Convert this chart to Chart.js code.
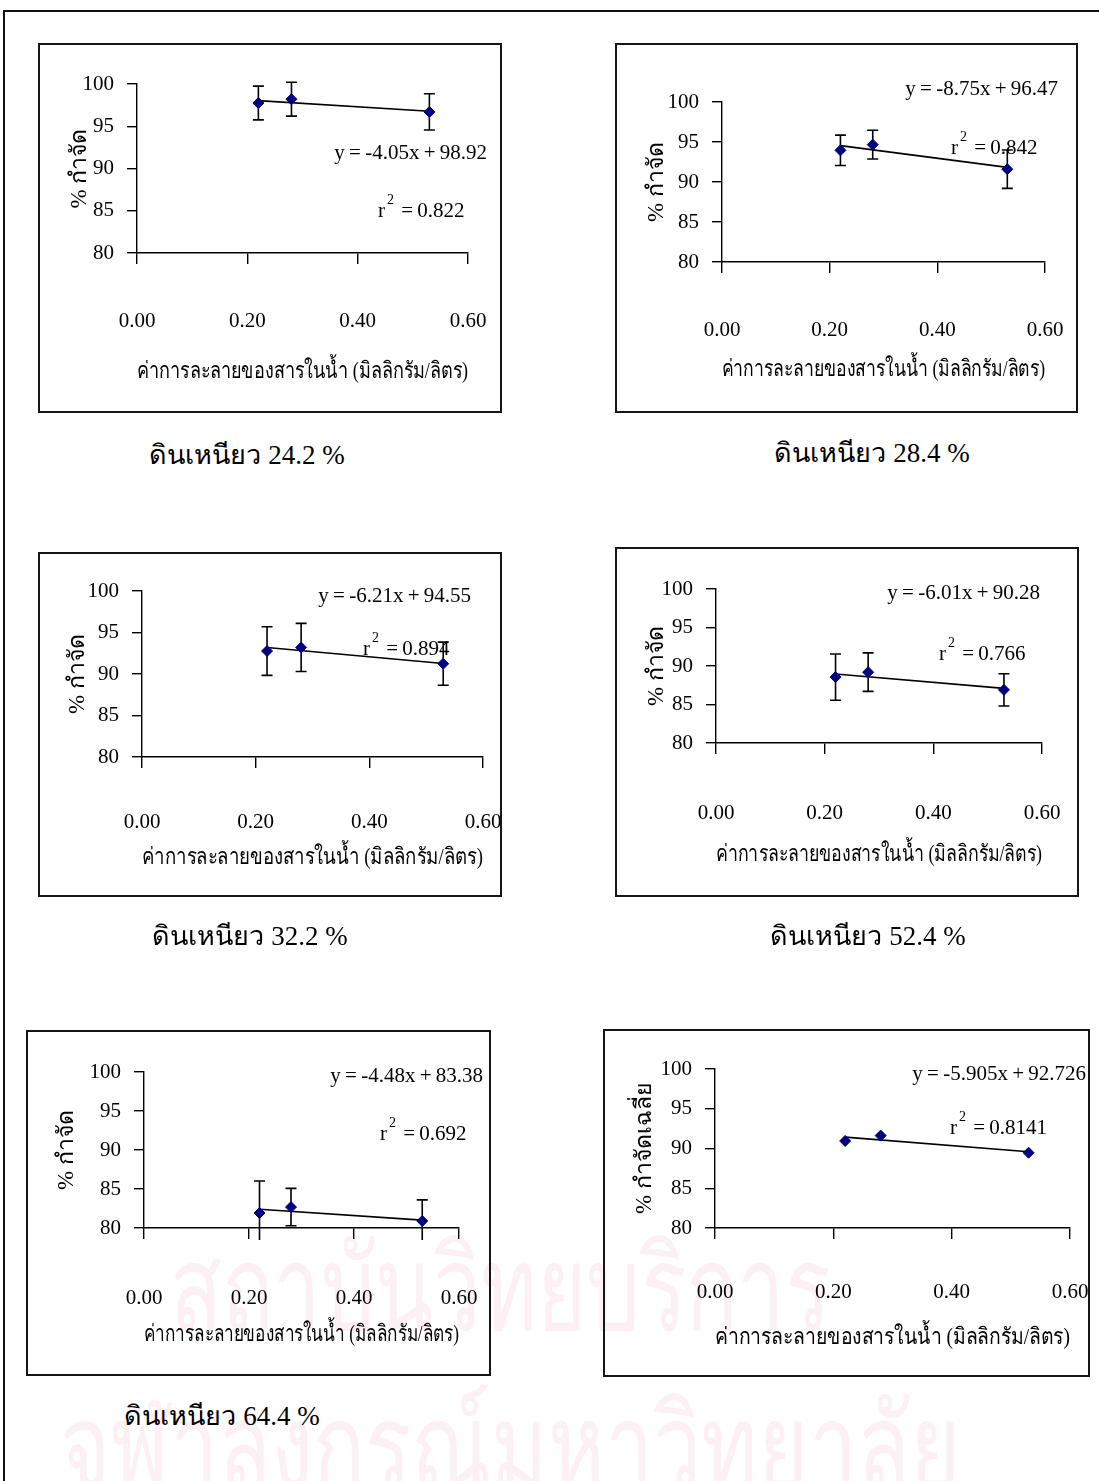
<!DOCTYPE html>
<html>
<head>
<meta charset="utf-8">
<script src="https://cdn.jsdelivr.net/npm/chart.js@4.4.0/dist/chart.umd.min.js"></script>
<style>
  html, body { margin: 0; padding: 0; background: #fff; overflow: hidden; }
  body { width: 1099px; height: 1481px; position: relative; font-family: "Liberation Serif", "Times New Roman", serif; color: #000; }
  .frame-top { position: absolute; left: 3px; top: 10px; width: 1096px; height: 2px; background: #111; }
  .frame-left { position: absolute; left: 3px; top: 10px; width: 2px; height: 1471px; background: #111; }
  .box { position: absolute; box-sizing: border-box; border: 2px solid #161616; pointer-events: none; }
  .plot { position: absolute; }
  .eq, .r2 { position: absolute; font-size: 21px; line-height: 24px; white-space: nowrap; word-spacing: -1px; }
  .r2 sup { font-size: 14px; vertical-align: 13px; line-height: 0; margin-left: 2px; margin-right: 3px; }
  .cap { position: absolute; font-size: 27px; line-height: 32px; white-space: nowrap; transform: translateX(-50%); }
  .wm { position: absolute; color: #fcf0f4; white-space: nowrap; font-family: "Noto Sans", sans-serif; transform-origin: 0 0; }
</style>
</head>
<body>
<div class="wm" data-width="660" style="left:170px; top:1210px; font-size:118px; line-height:150px;">สถาบันวิทยบริการ</div>
<div class="wm" data-width="900" style="left:60px; top:1368px; font-size:118px; line-height:150px;">จุฬาลงกรณ์มหาวิทยาลัย</div>
<div class="frame-top"></div>
<div class="frame-left"></div>
<div id="page"></div>
<script>
// Solubility of the compound in water (mg/L) at which removal was measured
const xValues = [0.22, 0.28, 0.53];
const xTicks = [0, 0.2, 0.4, 0.6];
const xTickLabels = ['0.00', '0.20', '0.40', '0.60'];
const yTicks = [80, 85, 90, 95, 100];
const yTickLabels = ['80', '85', '90', '95', '100'];

// Removal (%) and error bar half-widths for each clay content
const removal242 = [97.75, 98.2, 96.7];
const err242 = [2.0, 2.0, 2.15];
const removal284 = [93.96, 94.67, 91.6];
const err284 = [1.9, 1.8, 2.4];
const removal322 = [92.77, 93.2, 91.24];
const err322 = [2.93, 2.9, 2.6];
const removal524 = [88.56, 89.2, 86.9];
const err524 = [3.0, 2.5, 2.1];
const removal644 = [81.92, 82.68, 80.9];
const err644 = [4.1, 2.4, 2.7];
const removalMean = [90.95, 91.62, 89.47];

// Linear trendlines
const slopes = [-4.05, -8.75, -6.21, -6.01, -4.48, -5.905];
const intercepts = [98.92, 96.47, 94.55, 90.28, 83.38, 92.726];
const slopeText = ['-4.05', '-8.75', '-6.21', '-6.01', '-4.48', '-5.905'];
const interceptText = ['98.92', '96.47', '94.55', '90.28', '83.38', '92.726'];
const rSquaredText = ['0.822', '0.842', '0.894', '0.766', '0.692', '0.8141'];

const captions = ['ดินเหนียว 24.2 %', 'ดินเหนียว 28.4 %', 'ดินเหนียว 32.2 %', 'ดินเหนียว 52.4 %', 'ดินเหนียว 64.4 %', ''];
const xTitle = 'ค่าการละลายของสารในน้ำ (มิลลิกรัม/ลิตร)';
const yTitles = ['% กำจัด', '% กำจัด', '% กำจัด', '% กำจัด', '% กำจัด', '% กำจัดเฉลี่ย'];

const seriesValues = [removal242, removal284, removal322, removal524, removal644, removalMean];
const seriesErrors = [err242, err284, err322, err524, err644, null];

// Panel geometry on the page: frame box [x, y, w, h], plot area [left, top, right, bottom],
// x tick label centre, x title centre, y title centre, equation anchor (right, mid), r2 anchor (left, mid), caption centre
const panels = [
  { box: [38, 43, 464, 370],   area: [137, 84, 468, 253],     xLab: 321,  xTit: 372,  yTit: 80,  eq: [487, 152],  r2: [378, 210],  cap: [247, 455] },
  { box: [615, 43, 463, 370],  area: [722, 102, 1045, 262],   xLab: 330,  xTit: 370,  yTit: 657, eq: [1058, 88],  r2: [951, 147],  cap: [872, 453] },
  { box: [38, 552, 464, 345],  area: [142, 591, 483, 757],    xLab: 822,  xTit: 858,  yTit: 78,  eq: [471, 595],  r2: [363, 648],  cap: [250, 936] },
  { box: [615, 547, 464, 350], area: [716, 589, 1042, 743],   xLab: 813,  xTit: 855,  yTit: 657, eq: [1040, 592], r2: [939, 653],  cap: [868, 936] },
  { box: [26, 1030, 465, 346], area: [144, 1072, 459, 1228],  xLab: 1298, xTit: 1335, yTit: 67,  eq: [483, 1075], r2: [380, 1133], cap: [222, 1416] },
  { box: [603, 1029, 487, 348], area: [715, 1069, 1070, 1228], xLab: 1292, xTit: 1338, yTit: 645, eq: [1086, 1073], r2: [950, 1127], cap: null }
];

const MARGIN = 24;          // canvas extends past the frame so edge labels are never squeezed
const TICK_LEN_X = 11;
const TICK_LEN_Y = 10;
const tickFont = { family: 'Liberation Serif', size: 21 };
const titleFont = { family: 'Liberation Serif', size: 23 };

// Squeeze the background lettering to its intended width
document.querySelectorAll('.wm').forEach(el => {
  const target = +el.dataset.width;
  const w = el.getBoundingClientRect().width;
  if (w > 0) el.style.transform = `scaleX(${target / w})`;
});

const errorBarPlugin = {
  id: 'errorBars',
  beforeDatasetsDraw(chart, args, opts) {
    if (!opts.errors) return;
    const { ctx, scales: { x, y }, chartArea } = chart;
    const limit = chartArea.bottom + 12;
    const data = chart.data.datasets[0].data;
    ctx.save();
    ctx.strokeStyle = '#000';
    ctx.lineWidth = 1.6;
    data.forEach((p, i) => {
      const e = opts.errors[i];
      const px = x.getPixelForValue(p.x);
      const top = y.getPixelForValue(p.y + e);
      const bot = y.getPixelForValue(p.y - e);
      const botDraw = Math.min(bot, limit);
      ctx.beginPath();
      ctx.moveTo(px, top);
      ctx.lineTo(px, botDraw);
      ctx.moveTo(px - 5.5, top);
      ctx.lineTo(px + 5.5, top);
      if (bot <= limit) {
        ctx.moveTo(px - 5.5, bot);
        ctx.lineTo(px + 5.5, bot);
      }
      ctx.stroke();
    });
    ctx.restore();
  }
};

const page = document.getElementById('page');

panels.forEach((pn, k) => {
  const [bx, by, bw, bh] = pn.box;
  const [aL, aT, aR, aB] = pn.area;
  const cx = bx - MARGIN, cy = by - MARGIN, cw = bw + 2 * MARGIN, ch = bh + 2 * MARGIN;

  const wrap = document.createElement('div');
  wrap.className = 'plot';
  wrap.style.cssText = `left:${cx}px;top:${cy}px;width:${cw}px;height:${ch}px;`;
  const canvas = document.createElement('canvas');
  wrap.appendChild(canvas);
  page.appendChild(wrap);

  const frame = document.createElement('div');
  frame.className = 'box';
  frame.style.cssText = `left:${bx}px;top:${by}px;width:${bw}px;height:${bh}px;`;
  page.appendChild(frame);

  const tickLH = tickFont.size * 1.2;
  const titleLH = titleFont.size * 1.2;
  const yScaleWidth = aL - cx;
  const xScaleHeight = (cy + ch) - aB;

  const points = xValues.map((v, i) => ({ x: v, y: seriesValues[k][i] }));
  const x0 = xValues[0], x1 = xValues[xValues.length - 1];
  const trend = [
    { x: x0, y: slopes[k] * x0 + intercepts[k] },
    { x: x1, y: slopes[k] * x1 + intercepts[k] }
  ];

  new Chart(canvas, {
    type: 'scatter',
    data: {
      datasets: [
        {
          data: points,
          pointStyle: 'rectRot',
          pointRadius: 5.5,
          backgroundColor: '#000080',
          borderColor: '#000080',
          borderWidth: 1,
          clip: false
        },
        {
          type: 'line',
          data: trend,
          borderColor: '#000',
          borderWidth: 1.6,
          pointRadius: 0,
          fill: false,
          clip: false
        }
      ]
    },
    options: {
      responsive: true,
      maintainAspectRatio: false,
      animation: false,
      events: [],
      layout: { padding: { left: 0, bottom: 0, top: aT - cy, right: (cx + cw) - aR } },
      plugins: {
        legend: { display: false },
        tooltip: { enabled: false },
        errorBars: { errors: seriesErrors[k] }
      },
      scales: {
        x: {
          type: 'linear',
          min: 0, max: 0.6,
          afterBuildTicks: s => { s.ticks = xTicks.map(v => ({ value: v })); },
          afterFit: s => { s.height = xScaleHeight; s.paddingLeft = 0; s.paddingRight = 0; },
          ticks: {
            font: tickFont, color: '#000', maxRotation: 0, autoSkip: false,
            padding: pn.xLab - aB - TICK_LEN_X - tickLH / 2,
            callback: (v, i) => xTickLabels[i]
          },
          grid: { drawOnChartArea: false, drawTicks: true, tickLength: TICK_LEN_X, color: '#000', lineWidth: 1.4 },
          border: { display: true, color: '#000', width: 1.4 },
          title: {
            display: true, text: xTitle, font: titleFont, color: '#000',
            padding: { top: 0, bottom: (cy + ch) - pn.xTit - titleLH / 2 }
          }
        },
        y: {
          type: 'linear',
          min: 80, max: 100,
          afterBuildTicks: s => { s.ticks = yTicks.map(v => ({ value: v })); },
          afterFit: s => { s.width = yScaleWidth; s.paddingTop = 0; s.paddingBottom = 0; },
          ticks: {
            font: tickFont, color: '#000', padding: 13,
            callback: (v, i) => yTickLabels[i]
          },
          grid: { drawOnChartArea: false, drawTicks: true, tickLength: TICK_LEN_Y, color: '#000', lineWidth: 1.4 },
          border: { display: true, color: '#000', width: 1.4 },
          title: {
            display: true, text: yTitles[k], font: titleFont, color: '#000',
            padding: { top: pn.yTit - cx - titleLH / 2, bottom: 0 }
          }
        }
      }
    },
    plugins: [errorBarPlugin]
  });

  const eq = document.createElement('div');
  eq.className = 'eq';
  eq.style.cssText = `right:${1099 - pn.eq[0]}px;top:${pn.eq[1] - 12}px;`;
  eq.textContent = `y = ${slopeText[k]}x + ${interceptText[k]}`;
  page.appendChild(eq);

  const r2 = document.createElement('div');
  r2.className = 'r2';
  r2.style.cssText = `left:${pn.r2[0]}px;top:${pn.r2[1] - 12}px;`;
  r2.innerHTML = `r<sup>2</sup> = ${rSquaredText[k]}`;
  page.appendChild(r2);

  if (pn.cap && captions[k]) {
    const cap = document.createElement('div');
    cap.className = 'cap';
    cap.style.cssText = `left:${pn.cap[0]}px;top:${pn.cap[1] - 16}px;`;
    cap.textContent = captions[k];
    page.appendChild(cap);
  }
});
</script>
</body>
</html>
